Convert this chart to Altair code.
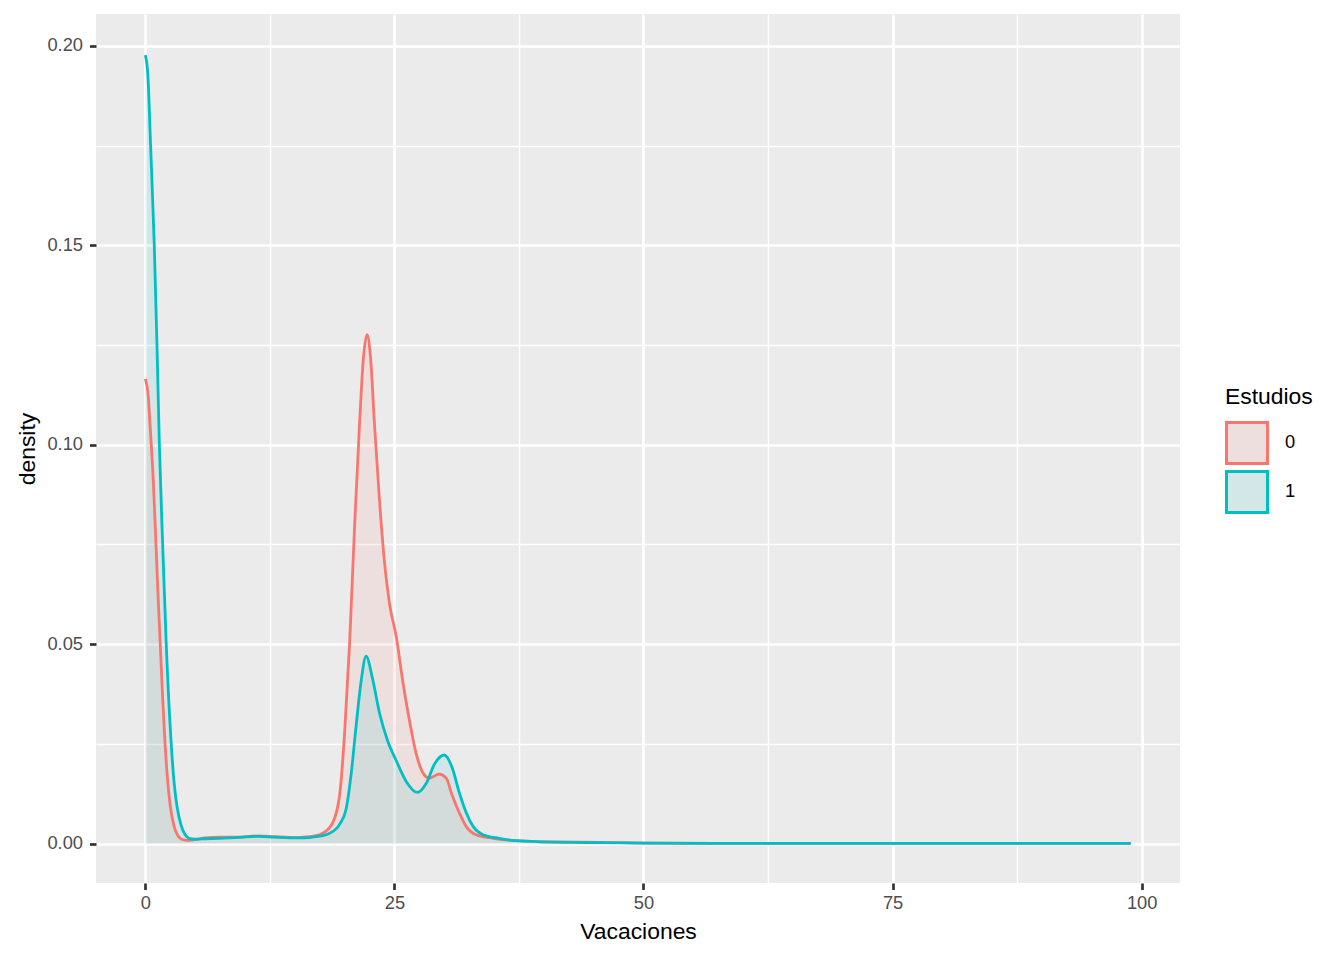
import altair as alt
import pandas as pd

# ---- data ----
estudios0_x = [0, 0.3, 0.5, 0.8, 1.07, 1.3, 1.5, 1.75, 1.94, 2.2, 2.5, 2.9, 3.3, 3.7, 4.2, 5, 6, 7.4, 9,
               11.4, 13, 15.2, 16.5, 17.8, 18.8, 19.5, 20.0, 20.5, 21.0, 21.5, 21.9, 22.26, 22.6, 23.0,
               23.5, 24.0, 24.5, 25.2, 25.8, 26.5, 27.2, 27.8, 28.5, 29.5, 30.2, 30.8, 31.5, 32.2, 33.2,
               34.9, 37.2, 40, 45.6, 50.6, 60, 70, 80, 90, 98.9]
estudios0_y = [0.1165, 0.112, 0.104, 0.091, 0.075, 0.061, 0.05, 0.036, 0.027, 0.017, 0.0095, 0.0042, 0.0018,
               0.0010, 0.0008, 0.0010, 0.0014, 0.0016, 0.0016, 0.0019, 0.0017, 0.0015, 0.0017, 0.0026,
               0.0052, 0.0121, 0.0276, 0.05, 0.0793, 0.1052, 0.122, 0.1276, 0.122, 0.1052, 0.0862, 0.0707,
               0.0603, 0.0517, 0.0414, 0.031, 0.0224, 0.018, 0.0164, 0.0174, 0.0164, 0.0121, 0.0078, 0.0043,
               0.0022, 0.0013, 0.0007, 0.0004, 0.0003, 0.0001, 0.00005, 0.00003, 0.00003, 0.00002, 0.00002]

estudios1_x = [0, 0.25, 0.53, 0.9, 1.17, 1.41, 1.74, 2.1, 2.6, 2.9, 3.2, 3.6, 4.0, 4.4, 5, 6, 7.4, 9, 11.4,
               13, 15.2, 16.5, 17.1, 18.5, 19.5, 20.15, 20.65, 21.15, 21.65, 22.16, 22.8, 23.5, 24.3, 25.2,
               26.2, 27.3, 28.2, 29.0, 30.0, 30.8, 31.5, 32.2, 32.9, 33.9, 35.5, 37.2, 40, 45.6, 50.6, 60,
               70, 80, 90, 98.9]
estudios1_y = [0.1977, 0.193, 0.175, 0.15, 0.125, 0.1, 0.075, 0.05, 0.025, 0.015, 0.009, 0.0045, 0.0022,
               0.0013, 0.0011, 0.0012, 0.0013, 0.0015, 0.0018, 0.0016, 0.0014, 0.0015, 0.0017, 0.0026,
               0.0048, 0.0086, 0.0172, 0.0293, 0.0405, 0.047, 0.0414, 0.0328, 0.0259, 0.0207, 0.0155,
               0.0128, 0.0151, 0.0198, 0.0222, 0.019, 0.0129, 0.0078, 0.0043, 0.0022, 0.0013, 0.0007,
               0.0004, 0.0002, 0.0001, 0.00005, 0.00003, 0.00002, 0.00002, 0.00002]

groups = ["0", "1"]
colors = ["#F8766D", "#00BFC4"]
key_fills = ["#ECDFDE", "#D4E7E7"]
x_ticks = [0, 25, 50, 75, 100]
x_minor = [12.5, 37.5, 62.5, 87.5]
y_ticks = [0, 0.05, 0.10, 0.15, 0.20]
y_minor = [0.025, 0.075, 0.125, 0.175]

df = pd.concat([
    pd.DataFrame({"Vacaciones": estudios0_x, "density": estudios0_y, "Estudios": groups[0]}),
    pd.DataFrame({"Vacaciones": estudios1_x, "density": estudios1_y, "Estudios": groups[1]}),
], ignore_index=True)
df["grupo"] = df["Estudios"]  # copy used only for the key-fill legend

FONT = "Liberation Sans"
TICK_FS = 18.3
TITLE_FS = 22.9
x_scale = alt.Scale(domain=[-4.95, 103.85], nice=False, zero=False)
y_scale = alt.Scale(domain=[-0.0099, 0.208], nice=False, zero=False)

common_legend = dict(
    title="Estudios", orient="none", legendX=1129, legendY=372,
    symbolType="square", symbolSize=1681, symbolStrokeWidth=3, symbolOpacity=1,
    titleFont=FONT, titleFontSize=TITLE_FS, titleFontWeight="normal", titleColor="black",
    labelFont=FONT, labelFontSize=TICK_FS, labelColor="black",
    titlePadding=12, rowPadding=-10, labelOffset=16,
)
legend_stroke = alt.Legend(symbolFillColor="transparent", zindex=2, **common_legend)
legend_fill = alt.Legend(symbolStrokeColor="transparent", titleOpacity=0, labelOpacity=0,
                         zindex=1, **common_legend)

major_x_axis = alt.Axis(values=x_ticks, title="Vacaciones", format="d", grid=True,
                        labelPadding=5, titlePadding=9)
major_y_axis = alt.Axis(values=y_ticks, title="density", format=".2f", grid=True,
                        labelPadding=7, titlePadding=7)

base = alt.Chart(df)

minor = base.mark_line(opacity=0).encode(
    x=alt.X("Vacaciones:Q", scale=x_scale,
            axis=alt.Axis(values=x_minor, orient="top", labels=False, ticks=False, domain=False,
                          title=None, grid=True, gridWidth=1.4, gridColor="white")),
    y=alt.Y("density:Q", scale=y_scale,
            axis=alt.Axis(values=y_minor, orient="right", labels=False, ticks=False, domain=False,
                          title=None, grid=True, gridWidth=1.4, gridColor="white")),
    detail="Estudios:N",
)

area = base.mark_area(interpolate="monotone", fillOpacity=0.1, strokeWidth=0).encode(
    x=alt.X("Vacaciones:Q", scale=x_scale, axis=major_x_axis),
    y=alt.Y("density:Q", scale=y_scale, axis=major_y_axis, stack=None),
    color=alt.Color("Estudios:N", scale=alt.Scale(domain=groups, range=colors), legend=None),
)

line = base.mark_line(interpolate="monotone", strokeWidth=2.8).encode(
    x=alt.X("Vacaciones:Q", scale=x_scale, axis=None),
    y=alt.Y("density:Q", scale=y_scale, axis=None),
    stroke=alt.Stroke("Estudios:N", scale=alt.Scale(range=colors), legend=legend_stroke),
)

# invisible layer that only provides the light key fills of the legend
keys = base.mark_point(shape="square", filled=True, opacity=0).encode(
    x=alt.X("Vacaciones:Q", scale=x_scale, axis=None),
    y=alt.Y("density:Q", scale=y_scale, axis=None),
    fill=alt.Fill("grupo:N", scale=alt.Scale(range=key_fills), legend=legend_fill),
)

chart = alt.layer(minor, area, line, keys).resolve_axis(
    x="independent", y="independent"
).properties(
    width=1084, height=869,
    autosize=alt.AutoSizeParams(type="none"),
    padding={"left": 88, "top": 6, "right": 150, "bottom": 62},
    view=alt.ViewBackground(fill="#EBEBEB", strokeWidth=0),
).configure_view(
    fill="#EBEBEB", strokeWidth=0
).configure_axis(
    domain=False, grid=True, gridColor="white", gridWidth=2.7,
    tickColor="#333333", tickWidth=2.7, tickSize=6.5,
    labelColor="#4D4D4D", labelFont=FONT, labelFontSize=TICK_FS,
    titleFont=FONT, titleFontSize=TITLE_FS, titleFontWeight="normal", titleColor="black",
)

chart.save("out.html", embed_options={"renderer": "svg", "actions": False})
